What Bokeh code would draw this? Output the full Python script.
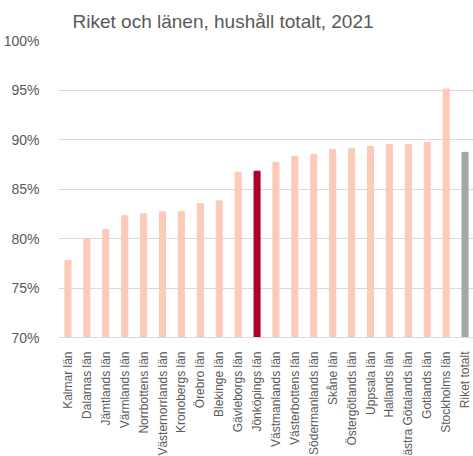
import math
from bokeh.plotting import figure
from bokeh.models import FactorRange, Range1d, PrintfTickFormatter, ColumnDataSource, FixedTicker
from bokeh.embed import file_html
from bokeh.resources import INLINE

counties = ["Kalmar län", "Dalarnas län", "Jämtlands län", "Värmlands län", "Norrbottens län",
            "Västernorrlands län", "Kronobergs län", "Örebro län", "Blekinge län", "Gävleborgs län",
            "Jönköpings län", "Västmanlands län", "Västerbottens län", "Södermanlands län", "Skåne län",
            "Östergötlands län", "Uppsala län", "Hallands län", "Västra Götalands län", "Gotlands län",
            "Stockholms län", "Riket totalt"]
share = [77.8, 80.0, 80.9, 82.3, 82.5, 82.7, 82.7, 83.5, 83.8, 86.7, 86.8, 87.7, 88.3, 88.5,
         89.0, 89.1, 89.3, 89.5, 89.5, 89.7, 95.1, 88.7]
y_ticks = [70, 75, 80, 85, 90, 95, 100]
title_text = "Riket och länen, hushåll totalt, 2021"

colors = []
for c in counties:
    if c == "Jönköpings län":
        colors.append("#B0002A")
    elif c == "Riket totalt":
        colors.append("#A6A6A6")
    else:
        colors.append("#FCCAB7")

src = ColumnDataSource(dict(x=counties, top=share, color=colors))

p = figure(x_range=FactorRange(*counties, range_padding=0), y_range=Range1d(70, 100),
           frame_width=416, frame_height=297, output_backend="svg", toolbar_location=None,
           min_border_left=49, min_border_right=0, min_border_top=9, min_border_bottom=0)
p.vbar(x="x", top="top", bottom=70, width=0.32, color="color", source=src)

p.title.text = title_text
p.title.align = "left"
p.title.offset = 14
p.title.text_font = "Liberation Sans"
p.title.text_font_size = "19px"
p.title.text_font_style = "normal"
p.title.text_color = "#595959"
p.title.standoff = 17

p.outline_line_color = None
p.xgrid.grid_line_color = None
p.ygrid.grid_line_color = "#D9D9D9"
p.ygrid.grid_line_width = 1

p.yaxis.ticker = FixedTicker(ticks=y_ticks)
p.yaxis.formatter = PrintfTickFormatter(format="%d%%")
p.yaxis.axis_line_color = None
p.yaxis.major_tick_line_color = None
p.yaxis.minor_tick_line_color = None
p.yaxis.major_label_standoff = 13
p.yaxis.major_label_text_font = "Liberation Sans"
p.yaxis.major_label_text_font_size = "14px"
p.yaxis.major_label_text_color = "#595959"

p.xaxis.axis_line_color = "#D9D9D9"
p.xaxis.major_tick_line_color = None
p.xaxis.minor_tick_line_color = None
p.xaxis.major_label_orientation = math.pi / 2
p.xaxis.major_label_standoff = 8
p.xaxis.major_label_text_font = "Liberation Sans"
p.xaxis.major_label_text_font_size = "12px"
p.xaxis.major_label_text_color = "#595959"

html = file_html(p, INLINE)
html = html.replace("</head>", "<style>html, body { overflow: hidden; }</style></head>", 1)
open("out.html", "w").write(html)
